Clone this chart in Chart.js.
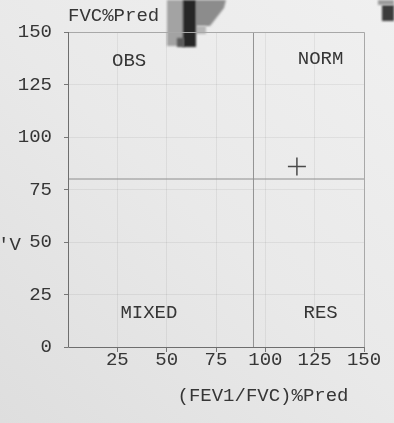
<!DOCTYPE html>
<html>
<head>
<meta charset="utf-8">
<script src="https://cdn.jsdelivr.net/npm/chart.js@4.4.1/dist/chart.umd.min.js"></script>
<style>
  html, body { margin: 0; padding: 0; background: #e9e9e9; }
  #wrap { width: 394px; height: 423px; position: relative; }
</style>
</head>
<body>
<div id="wrap"><canvas id="c" width="394" height="423"></canvas></div>
<script>
// Axis ticks (% predicted)
const xTicks = [25, 50, 75, 100, 125, 150];
const yTicks = [0, 25, 50, 75, 100, 125, 150];

// Quadrant limits
const ratioLimit = 94;   // (FEV1/FVC) %Pred
const fvcLimit = 80;     // FVC %Pred

// Patient result
const patientRatio = [116];
const patientFvc = [86];

// Quadrant names and where they sit (data units)
const quadrantNames = ['OBS', 'NORM', 'MIXED', 'RES'];
const quadrantX = [31, 128, 41, 128];
const quadrantY = [136, 137, 16, 16];

const MONO = '"Liberation Mono", "DejaVu Sans Mono", monospace';
const INK = '#363636';

const paperPlugin = {
  id: 'paper',
  beforeDraw(chart) {
    const ctx = chart.ctx;
    const w = chart.width, h = chart.height;
    ctx.save();
    const g = ctx.createLinearGradient(0, h, w, 0);
    g.addColorStop(0, '#dedede');
    g.addColorStop(0.5, '#e9e9e9');
    g.addColorStop(1, '#f0f0f0');
    ctx.fillStyle = g;
    ctx.fillRect(0, 0, w, h);
    // dark printed shapes bleeding in from the top edge
    ctx.filter = 'blur(1px)';
    ctx.fillStyle = '#a3a3a3';
    ctx.fillRect(167, 0, 17, 46);
    ctx.fillStyle = '#8c8c8c';
    ctx.beginPath();
    ctx.moveTo(196, 0); ctx.lineTo(226, 0); ctx.lineTo(224, 8);
    ctx.lineTo(210, 26); ctx.lineTo(196, 26); ctx.closePath();
    ctx.fill();
    ctx.fillStyle = '#b5b5b5';
    ctx.fillRect(196, 26, 10, 8);
    ctx.fillStyle = '#262626';
    ctx.fillRect(183, 0, 13, 47);
    ctx.fillStyle = '#5a5a5a';
    ctx.fillRect(177, 38, 7, 9);
    ctx.fillStyle = '#3c3c3c';
    ctx.fillRect(382, 5, 12, 16);
    ctx.fillStyle = '#9a9a9a';
    ctx.fillRect(378, 0, 16, 5);
    ctx.filter = 'none';
    ctx.restore();
  },
  afterDraw(chart) {
    const ctx = chart.ctx;
    const a = chart.chartArea;
    const xs = chart.scales.x, ys = chart.scales.y;
    ctx.save();
    // frame
    ctx.strokeStyle = '#a8a8a8';
    ctx.lineWidth = 1;
    ctx.beginPath();
    ctx.moveTo(a.left, a.top + 0.5);
    ctx.lineTo(a.right + 0.5, a.top + 0.5);
    ctx.lineTo(a.right + 0.5, a.bottom);
    ctx.stroke();
    ctx.strokeStyle = '#6e6e6e';
    ctx.beginPath();
    ctx.moveTo(a.left + 0.5, a.top);
    ctx.lineTo(a.left + 0.5, a.bottom + 0.5);
    ctx.lineTo(a.right, a.bottom + 0.5);
    ctx.stroke();
    // quadrant names
    ctx.fillStyle = INK;
    ctx.font = '19px ' + MONO;
    ctx.textAlign = 'center';
    ctx.textBaseline = 'middle';
    quadrantNames.forEach((n, i) => {
      ctx.fillText(n, xs.getPixelForValue(quadrantX[i]), ys.getPixelForValue(quadrantY[i]));
    });
    // axis titles
    ctx.textAlign = 'left';
    ctx.fillText('FVC%Pred', 68, 16);
    ctx.textAlign = 'center';
    ctx.fillText('(FEV1/FVC)%Pred', 263, 396);
    ctx.textAlign = 'left';
    ctx.fillText("'V", -2, 245);
    ctx.restore();
  }
};

new Chart(document.getElementById('c'), {
  type: 'scatter',
  data: {
    datasets: [
      {
        label: 'FVC limit',
        type: 'line',
        data: [{ x: 0, y: fvcLimit }, { x: 150, y: fvcLimit }],
        borderColor: '#8e8e8e',
        borderWidth: 1,
        pointRadius: 0
      },
      {
        label: 'Ratio limit',
        type: 'line',
        data: [{ x: ratioLimit, y: 0 }, { x: ratioLimit, y: 150 }],
        borderColor: '#939393',
        borderWidth: 1,
        pointRadius: 0
      },
      {
        label: 'Result',
        data: patientRatio.map((v, i) => ({ x: v, y: patientFvc[i] })),
        pointStyle: 'cross',
        pointRadius: 9,
        pointBorderWidth: 1.5,
        borderColor: '#4a4a4a',
        backgroundColor: '#4a4a4a'
      }
    ]
  },
  options: {
    responsive: false,
    animation: false,
    layout: { padding: { top: 32, right: 30, left: 0, bottom: 0 } },
    plugins: { legend: { display: false }, tooltip: { enabled: false } },
    scales: {
      x: {
        type: 'linear',
        min: 0, max: 150,
        afterBuildTicks(scale) { scale.ticks = xTicks.map(v => ({ value: v })); },
        afterFit(scale) { scale.height = 76; },
        grid: { color: 'rgba(0,0,0,0.06)', tickColor: '#777', tickLength: 5, drawTicks: true },
        border: { display: false },
        ticks: { color: INK, font: { family: MONO, size: 19 }, padding: -3, maxRotation: 0, autoSkip: false }
      },
      y: {
        type: 'linear',
        min: 0, max: 150,
        afterBuildTicks(scale) { scale.ticks = yTicks.map(v => ({ value: v })); },
        afterFit(scale) { scale.width = 68; },
        grid: { color: 'rgba(0,0,0,0.06)', tickColor: '#777', tickLength: 4, drawTicks: true },
        border: { display: false },
        ticks: { color: INK, font: { family: MONO, size: 19 }, padding: 12, autoSkip: false }
      }
    }
  },
  plugins: [paperPlugin]
});
</script>
</body>
</html>
